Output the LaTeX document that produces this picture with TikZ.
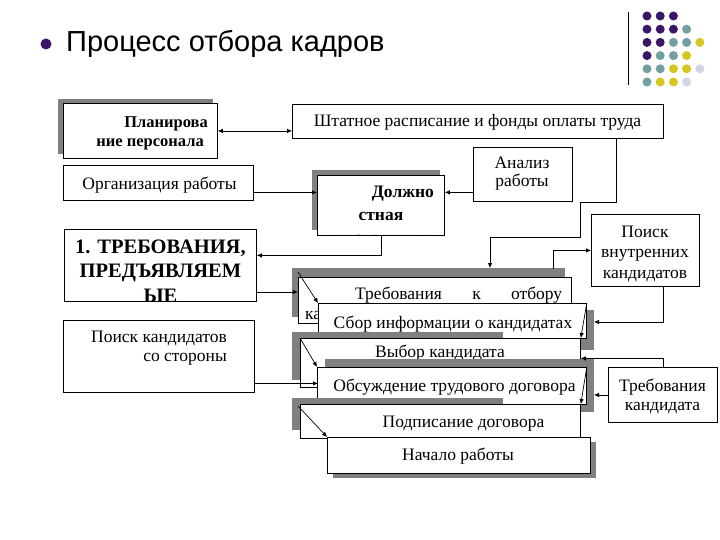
\documentclass[tikz,border=0pt]{standalone}
\usepackage{fontspec}
\setmainfont{Liberation Serif}
\newfontfamily\headfont{Liberation Sans}
\usetikzlibrary{arrows.meta,calc}

\definecolor{dotpurple}{RGB}{58,22,104}
\definecolor{dotteal}{RGB}{112,160,160}
\definecolor{dotyellow}{RGB}{212,200,30}
\definecolor{dotlight}{RGB}{208,212,228}
\definecolor{shadegray}{RGB}{128,128,128}

\tikzset{
  box/.style={draw, fill=white, line width=0.8pt, inner sep=0pt, anchor=north west},
  shade/.style={fill=shadegray},
  txt/.style={font=\fontsize{17.5}{20}\selectfont, inner sep=0pt},
  btxt/.style={font=\bfseries\fontsize{17.5}{20}\selectfont, inner sep=0pt},
  link/.style={line width=0.7pt, -{Latex[length=5pt,width=4.5pt]}},
  bothlink/.style={line width=0.7pt, {Latex[length=5pt,width=4.5pt]}-{Latex[length=5pt,width=4.5pt]}},
}

\begin{document}
\begin{tikzpicture}[x=1pt, y=-1pt]
  \useasboundingbox (0,0) rectangle (720,540);

  % Title
  \fill[dotpurple] (46,44) circle (5.5);
  \node[anchor=base west, inner sep=0pt, font=\headfont\fontsize{29}{34}\selectfont] (title) at (66,52) {Процесс отбора кадров};

  % Corner decoration
  \draw[line width=1pt] (628,12) -- (628,85);
  \foreach \c/\r/\col in {0/0/dotpurple, 1/0/dotpurple, 2/0/dotpurple,
      0/1/dotpurple, 1/1/dotpurple, 2/1/dotpurple, 3/1/dotteal,
      0/2/dotpurple, 1/2/dotpurple, 2/2/dotteal, 3/2/dotteal, 4/2/dotyellow,
      0/3/dotpurple, 1/3/dotteal, 2/3/dotteal, 3/3/dotyellow,
      0/4/dotteal, 1/4/dotteal, 2/4/dotyellow, 3/4/dotyellow, 4/4/dotlight,
      0/5/dotteal, 1/5/dotyellow, 2/5/dotyellow, 3/5/dotlight} {
    \fill[\col] (647+13.2*\c, 16+13.2*\r) circle (4.5);
  }

  % Planning and staff schedule
  \fill[shade] (58,99) rectangle (213,154);
  \node[box, minimum width=154pt, minimum height=55pt] (plan) at (63,103) {};
  \node[btxt, anchor=base east, align=right, font=\bfseries\fontsize{16.5}{19.5}\selectfont] (plan-t) at (208,147) {Планирова\\ние персонала\hspace*{4pt}};
  \node[box, minimum width=371pt, minimum height=34pt] (staff) at (292,104) {};
  \node[txt, anchor=base] (staff-t) at (477.5,127) {Штатное расписание и фонды оплаты труда};

  % Work organisation, job description, job analysis
  \node[box, minimum width=190pt, minimum height=35pt] (org) at (63,165) {};
  \node[txt, anchor=base] (org-t) at (159.5,190) {Организация работы};
  \fill[shade] (312,170) rectangle (440,230);
  \node[box, minimum width=127pt, minimum height=60pt, path picture={
      \node[btxt, align=center, anchor=base, font=\bfseries\fontsize{17.5}{23}\selectfont] at ($(path picture bounding box.north)+(0,68)$) {\hspace*{44pt}Должно\\стная\\инструкция};
    }] (job) at (317,175) {};
  \node[box, minimum width=99pt, minimum height=54pt] (anal) at (473,147) {};
  \node[txt, anchor=base, align=center, font=\fontsize{17.5}{18}\selectfont] (anal-t) at (522,187) {Анализ\\работы};

  % Requirements and outside search
  \node[box, minimum width=192pt, minimum height=72pt, path picture={
      \node[font=\bfseries\fontsize{20.5}{24.5}\selectfont, inner sep=0pt, align=center, anchor=base] at ($(path picture bounding box.north)+(0,73)$) {1. ТРЕБОВАНИЯ,\\ПРЕДЪЯВЛЯЕМ\\ЫЕ};
    }] (reqs) at (64,229) {};
  \node[box, minimum width=191pt, minimum height=72pt] (ext) at (63,320) {};
  \node[txt, anchor=base east, align=right, font=\fontsize{17.5}{19}\selectfont] (ext-t) at (227,361) {Поиск кандидатов\\со стороны};

  % Right column
  \node[box, minimum width=108pt, minimum height=72pt] (int) at (591,214) {};
  \node[txt, anchor=base, align=center, font=\fontsize{17.5}{20.5}\selectfont] (int-t) at (645,278) {Поиск\\внутренних\\кандидатов};
  \node[box, minimum width=109pt, minimum height=55pt] (cand) at (608,367) {};
  \node[txt, anchor=base, align=center, font=\fontsize{17.5}{19}\selectfont] (cand-t) at (662.5,410) {Требования\\кандидата};

  % Selection steps
  \fill[shade] (292,268) rectangle (565,317);
  \node[box, minimum width=273pt, minimum height=46pt] (A) at (298,277) {};
  \node[txt, anchor=base west, text width=257pt, align=justify] (A-t) at (305,299) {\hyphenpenalty=10000\hspace*{50pt}Требования к отбору кандидатов};
  \fill[shade] (328,310) rectangle (594,350);
  \node[box, minimum width=268pt, minimum height=35pt] (B) at (318,303) {};
  \node[txt, anchor=base] (B-t) at (453,328) {Сбор информации о кандидатах};
  \fill[shade] (292,332) rectangle (503,380);
  \node[box, minimum width=280pt, minimum height=49pt] (C) at (300,338) {};
  \node[txt, anchor=base] (C-t) at (440,357) {Выбор кандидата};
  \fill[shade] (325,359) rectangle (594,412);
  \node[box, minimum width=269pt, minimum height=37pt] (D) at (317,367) {};
  \node[txt, anchor=base] (D-t) at (454.5,391) {Обсуждение трудового договора};
  \fill[shade] (292,398) rectangle (503,430);
  \node[box, minimum width=280pt, minimum height=34pt] (E) at (300,404) {};
  \node[txt, anchor=base] (E-t) at (463.5,427) {Подписание договора};
  \fill[shade] (333,442) rectangle (596,478);
  \node[box, minimum width=263pt, minimum height=36pt] (F) at (327,437) {};
  \node[txt, anchor=base] (F-t) at (458,460) {Начало работы};

  % Connectors
  \draw[bothlink] (plan.east) -- (plan.east -| staff.west);
  \draw[link] ([yshift=-9.5pt]org.east) -- ([yshift=-9.5pt]org.east -| job.west);
  \draw[link] ([yshift=-18pt]anal.west) -- ([yshift=-18pt]anal.west -| job.east);
  \draw[link] (job.south) |- ([yshift=10pt]reqs.east);
  \coordinate (A-top) at (490,268);
  \draw[link] ([xshift=138.5pt]staff.south) -- ++(0,64) -- ++(-36,0) -- ++(0,35) -| (A-top);
  \coordinate (A-up) at (553,269);
  \draw[link] (A-up) |- (int.west);
  \coordinate (B-in) at (594,322);
  \draw[link] ([xshift=18pt]int.south) |- (B-in);
  \draw[link] (cand.west) -- ++(-14,0);
  \draw[link] (cand.north) |- ([yshift=4.5pt]C.east);
  \draw[link] ([yshift=-26.5pt]reqs.east) -- ([yshift=-26.5pt]reqs.east -| A.west);
  \draw[link] ([yshift=-27pt]ext.east) -- ([yshift=-27pt]ext.east -| B.west);

  % Step arrows
  \coordinate (A-corner) at (298,272);
  \coordinate (E-corner) at (298,406);
  \draw[link] (A-corner) -- (B.north west);
  \draw[link] (C.north west) -- (D.north west);
  \draw[link] (E-corner) -- (F.north west);
  \draw[link] (B.north east) -- (C.north east);
  \draw[link] (D.north east) -- (E.north east);
\end{tikzpicture}
\end{document}
